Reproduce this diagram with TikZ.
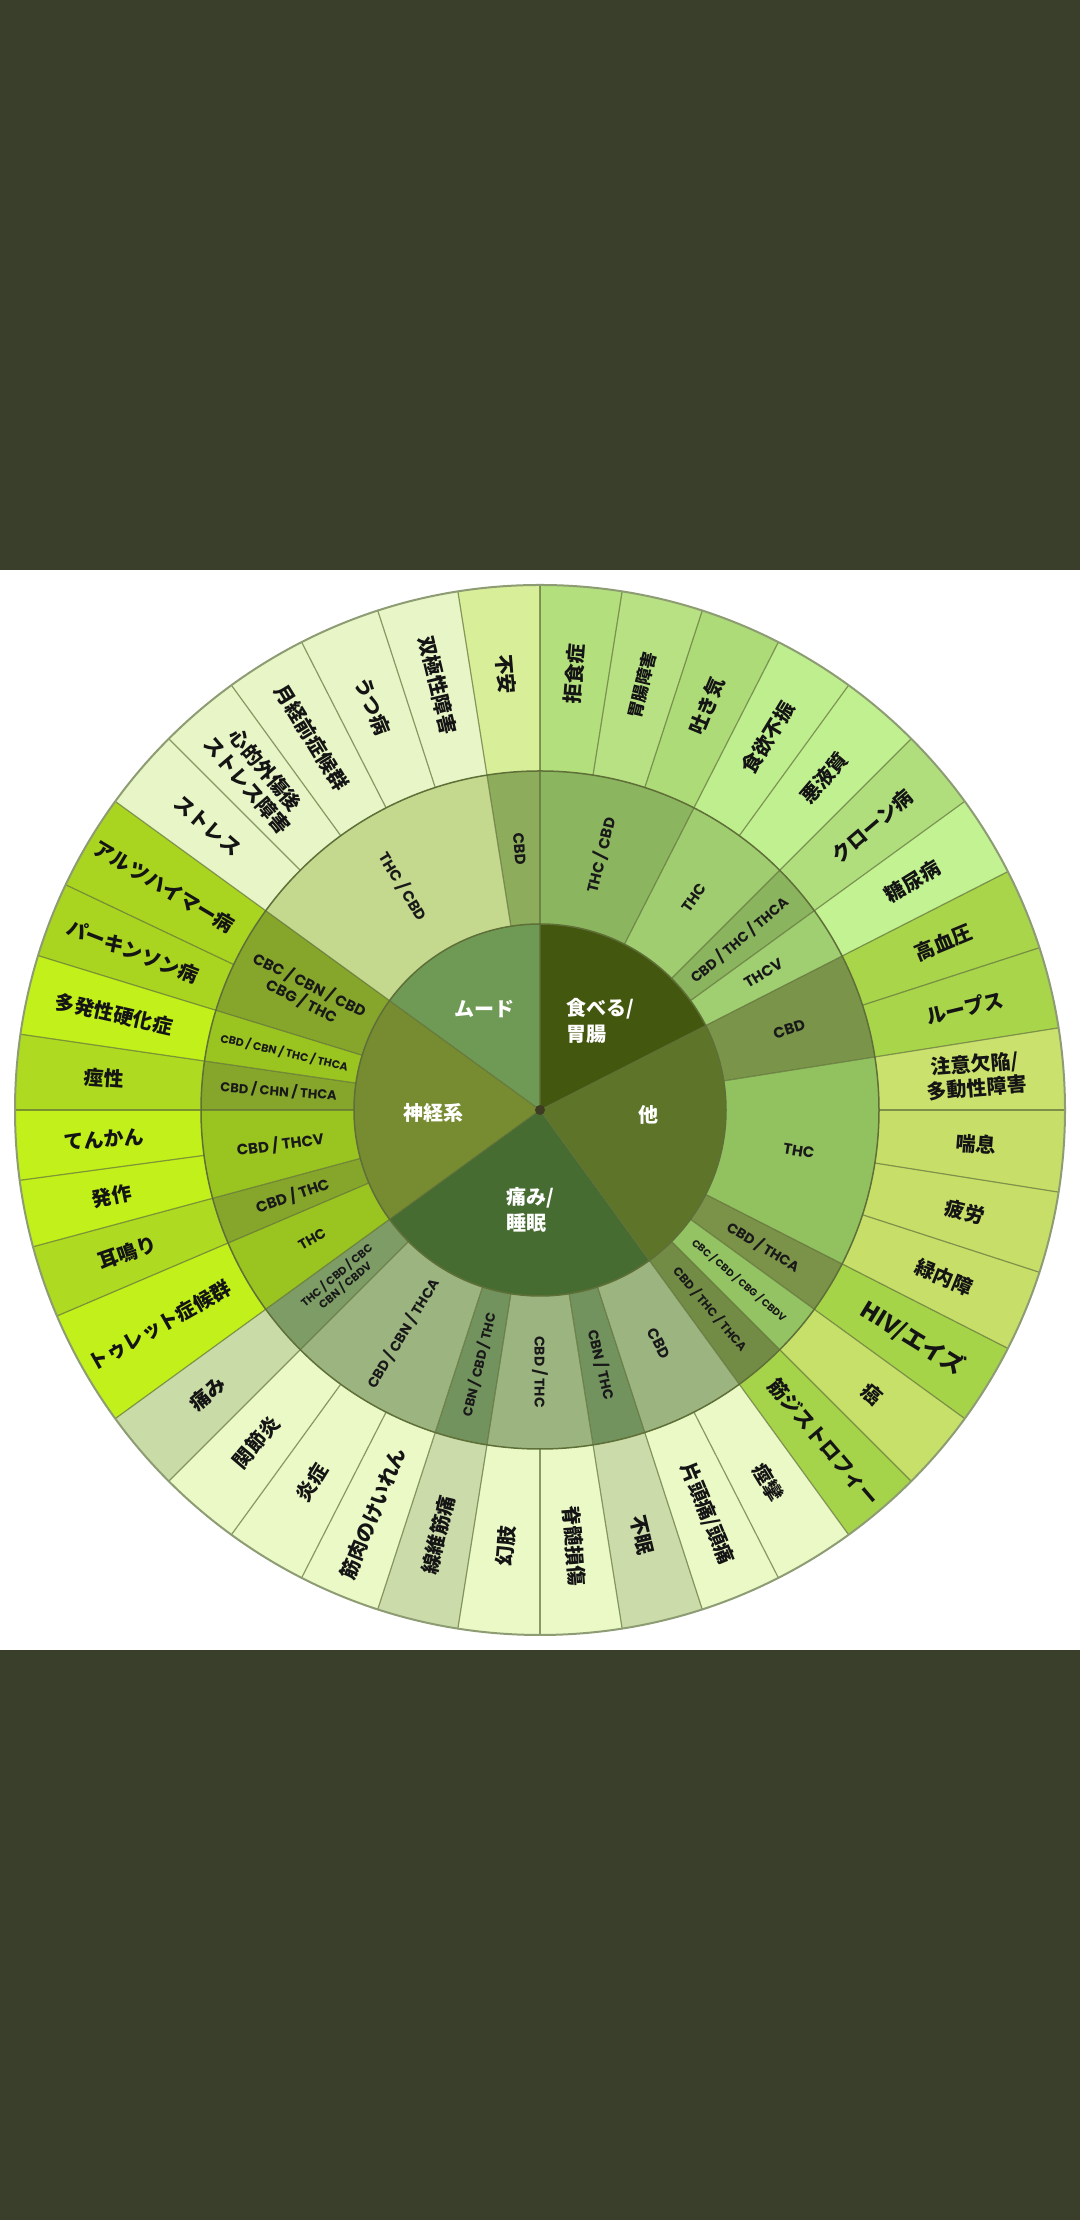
\documentclass[tikz,border=0pt]{standalone}
\usepackage{fontspec}
\newfontfamily\jp{Noto Sans CJK JP}
\newfontfamily\lat{Poppins}
\definecolor{bgdark}{HTML}{3A3F2B}
\definecolor{segline}{HTML}{5F6F38}
\definecolor{rimline}{HTML}{8E9C74}
\definecolor{dotc}{HTML}{3E3C22}
\tikzset{
  olab/.style={font=\jp\bfseries\fontsize{20}{24}\selectfont, text=black!92, align=center, inner sep=0pt},
  mlab/.style={text=black!90, align=center, inner sep=0pt},
  ilab/.style={font=\jp\bfseries\fontsize{20}{26}\selectfont, text=white, align=left, inner sep=0pt},
  sline/.style={draw=segline, draw opacity=0.7, line width=1.2pt},
  cline/.style={draw=segline, line width=1.5pt},
}
\newcommand\ring[3]{%
  \foreach \aa/\ab/\hx in {#3}{%
    \definecolor{tmpc}{HTML}{\hx}%
    \fill[tmpc] (\aa:#1pt) arc[start angle=\aa, end angle=\ab, radius=#1pt] -- (\ab:#2pt) arc[start angle=\ab, end angle=\aa, radius=#2pt] -- cycle;
  }%
  \foreach \aa/\ab/\hx in {#3}{%
    \draw[sline] (\aa:#1pt) -- (\aa:#2pt);
  }%
}
\newcommand\olab[4]{\node[olab, rotate=#3] (#1) at (#2:437pt) {#4};}
\newcommand\mlab[6]{\node[mlab, font=\lat\bfseries\fontsize{#4}{#5}\selectfont, rotate=#3] (#1) at (#2:262pt) {#6};}
\begin{document}
\begin{tikzpicture}[x=1pt,y=1pt]
\useasboundingbox (0,0) rectangle (1080,2220);
\fill[bgdark] (0,0) rectangle (1080,2220);
\fill[white] (0,570) rectangle (1080,1650);
\begin{scope}[shift={(540,1110)}]
% outer ring
\ring{339}{525}{90/81/B3DF7C, 81/72/B7E183, 72/63/ADDB78, 63/54/BFEE8E, 54/45/C1F091, 45/36/B0DE7D, 36/27/C2F292,
27/18/A9D54B, 18/9/A9D54B, 9/0/CBE16E, 0/-9/C7DF69, -9/-18/C7DF69, -18/-27/C7DF69, -27/-36/A6D449, -36/-45/C7E069, -45/-54/A5D34A,
-54/-63/EAF9C6, -63/-72/EAF9C6, -72/-81/CBDCAA, -81/-90/EAF9C6, -90/-99/EAF9C6, -99/-108/CBDCAA, -108/-117/EAF9C6, -117/-126/EAF9C6, -126/-135/EAF9C6, -135/-144/C9DCA8,
-144/-156.9/C2F01A, -156.9/-164.9/AEDB22, -164.9/-172.3/C2F01A, -172.3/-180/C2F01A, 180/171.7/AEDB22, 171.7/162.9/C2F01A, 162.9/154.6/A9D520, 154.6/144/A9D520,
144/135/E8F5C6, 135/126/E8F5C6, 126/117/E8F5C6, 117/108/E8F5C6, 108/99/E8F5C6, 99/90/D9EE98}
% middle ring
\ring{186}{339}{99/90/8EAD5C, 144/99/C4D88E,
90/63/8BB55E, 63/45/9FCD70, 45/36/8AB45D, 36/27/A0CF72,
27/9/7A9549, 9/-27/92C260, -27/-36/7B9249, -36/-45/93C362, -45/-54/738C45,
-54/-72/9CB580, -72/-81/73935E, -81/-99/9CB580, -99/-108/73935E, -108/-135/9CB580, -135/-144/7D9C66,
-144/-156.9/9AC41F, -156.9/-164.9/86A62B, -164.9/-180/9AC41F, 180/171.7/86A62B, 171.7/162.9/9AC41F, 162.9/144/86A62B}
% inner ring
\ring{0}{186}{144/90/6F9A55, 216/144/778B31, -54/-144/476C32, 27/-54/5E7529, 90/27/44570F}
\draw[cline] (0,0) circle[radius=186pt];
\draw[cline] (0,0) circle[radius=339pt];
\draw[rimline, line width=2pt] (0,0) circle[radius=525pt];
\fill[dotc] (0,0) circle[radius=5pt];
% outer labels
\olab{o1}{85.5}{85.5}{拒食症}
\olab{o2}{76.5}{76.5}{\fontsize{17}{20}\selectfont 胃腸障害}
\olab{o3}{67.5}{67.5}{吐き気}
\olab{o4}{58.5}{58.5}{食欲不振}
\olab{o5}{49.5}{49.5}{悪液質}
\olab{o6}{40.5}{40.5}{クローン病}
\olab{o7}{31.5}{31.5}{糖尿病}
\olab{o8}{22.5}{22.5}{高血圧}
\olab{o9}{13.5}{13.5}{ループス}
\olab{o10}{4.5}{4.5}{注意欠陥/\\多動性障害}
\olab{o11}{-4.5}{-4.5}{喘息}
\olab{o12}{-13.5}{-13.5}{疲労}
\olab{o13}{-22.5}{-22.5}{緑内障}
\olab{o14}{-31.5}{-31.5}{\fontsize{23}{26}\selectfont HIV/エイズ}
\olab{o15}{-40.5}{-40.5}{癌}
\olab{o16}{-49.5}{-49.5}{筋ジストロフィー}
\olab{o17}{-58.5}{-58.5}{痙攣}
\olab{o18}{-67.5}{-67.5}{片頭痛/頭痛}
\olab{o19}{-76.5}{-76.5}{不眠}
\olab{o20}{-85.5}{-85.5}{脊髄損傷}
\olab{o21}{-94.5}{85.5}{幻肢}
\olab{o22}{-103.5}{76.5}{線維筋痛}
\olab{o23}{-112.5}{67.5}{筋肉のけいれん}
\olab{o24}{-121.5}{58.5}{炎症}
\olab{o25}{-130.5}{49.5}{関節炎}
\olab{o26}{-139.5}{40.5}{痛み}
\olab{o27}{-150.45}{29.55}{トゥレット症候群}
\olab{o28}{-160.9}{19.1}{耳鳴り}
\olab{o29}{-168.6}{11.4}{発作}
\olab{o30}{-176.15}{3.85}{てんかん}
\olab{o31}{175.85}{-4.15}{痙性}
\olab{o32}{167.3}{-12.7}{多発性硬化症}
\olab{o33}{158.75}{-21.25}{パーキンソン病}
\olab{o34}{149.3}{-30.7}{アルツハイマー病}
\olab{o35}{139.5}{-40.5}{ストレス}
\olab{o36}{130.5}{-49.5}{心的外傷後\\ストレス障害}
\olab{o37}{121.5}{-58.5}{月経前症候群}
\olab{o38}{112.5}{-67.5}{うつ病}
\olab{o39}{103.5}{-76.5}{双極性障害}
\olab{o40}{94.5}{-85.5}{不安}
% middle labels
\mlab{m1}{94.5}{-85.5}{15}{17}{CBD}
\mlab{m2}{121.5}{-58.5}{15}{17}{THC / CBD}
\mlab{m3}{76.5}{76.5}{15}{17}{THC / CBD}
\mlab{m4}{54}{54}{15}{17}{THC}
\mlab{m5}{40.5}{40.5}{14}{16}{CBD / THC / THCA}
\mlab{m6}{31.5}{31.5}{15}{17}{THCV}
\mlab{m7}{18}{18}{15}{17}{CBD}
\mlab{m8}{-9}{-9}{15}{17}{THC}
\mlab{m9}{-31.5}{-31.5}{14}{16}{CBD / THCA}
\mlab{m10}{-40.5}{-40.5}{10}{12}{CBC / CBD / CBG / CBDV}
\mlab{m11}{-49.5}{-49.5}{12}{14}{CBD / THC / THCA}
\mlab{m12}{-63}{-63}{15}{17}{CBD}
\mlab{m13}{-76.5}{-76.5}{14}{16}{CBN / THC}
\mlab{m14}{-90}{-90}{14}{16}{CBD / THC}
\mlab{m15}{-103.5}{76.5}{13}{15}{CBN / CBD / THC}
\mlab{m16}{-121.5}{58.5}{14}{16}{CBD / CBN / THCA}
\mlab{m17}{-139.5}{40.5}{11}{13}{THC / CBD / CBC\\CBN / CBDV}
\mlab{m18}{-150.45}{29.55}{14}{16}{THC}
\mlab{m19}{-160.9}{19.1}{15}{17}{CBD / THC}
\mlab{m20}{-172.45}{7.55}{15}{17}{CBD / THCV}
\mlab{m21}{175.85}{-4.15}{13}{15}{CBD / CHN / THCA}
\mlab{m22}{167.3}{-12.7}{11}{13}{CBD / CBN / THC / THCA}
\mlab{m23}{153.45}{-26.55}{15}{18}{CBC / CBN / CBD\\CBG / THC}
% inner labels
\node[ilab] (i1) at (-56,101) {ムード};
\node[ilab] (i2) at (60,89) {食べる/\\胃腸};
\node[ilab] (i3) at (108,-5) {他};
\node[ilab] (i4) at (-10,-100) {痛み/\\睡眠};
\node[ilab] (i5) at (-107,-3) {神経系};
\end{scope}
\end{tikzpicture}
\end{document}
